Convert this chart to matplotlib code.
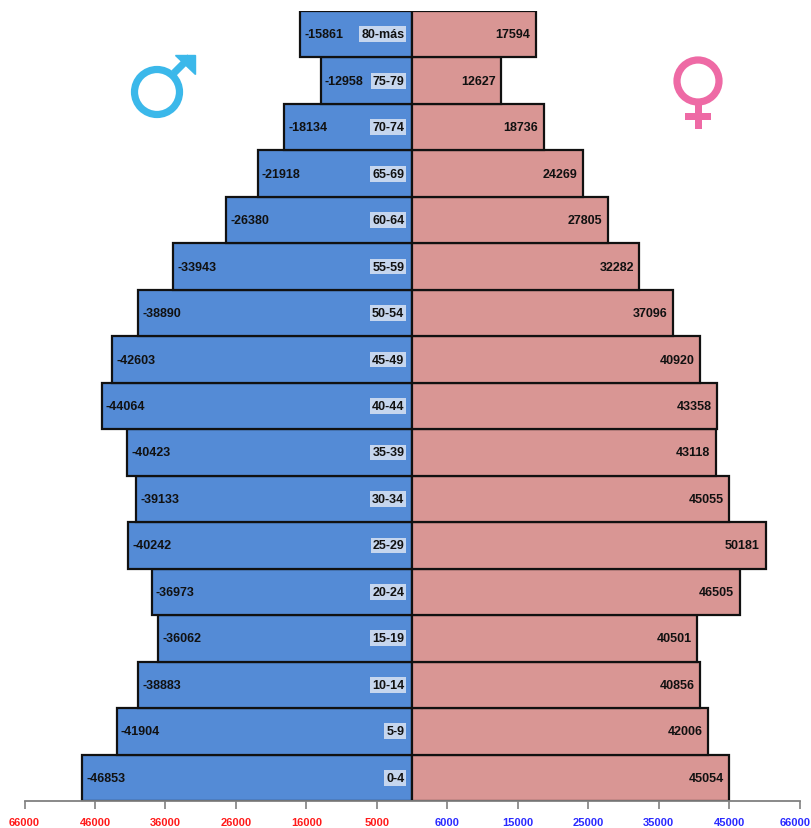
import numpy as np
import matplotlib
matplotlib.use('Agg')
import matplotlib.pyplot as plt
from matplotlib.patches import Circle, Rectangle, Polygon
from matplotlib.transforms import ScaledTranslation

plt.rcParams['font.family'] = ['Liberation Sans Narrow', 'Liberation Sans', 'DejaVu Sans']

# Grupos de edad, de abajo hacia arriba
edades = ['0-4', '5-9', '10-14', '15-19', '20-24', '25-29', '30-34', '35-39', '40-44',
          '45-49', '50-54', '55-59', '60-64', '65-69', '70-74', '75-79', '80-más']
hombres = [-46853, -41904, -38883, -36062, -36973, -40242, -39133, -40423, -44064,
           -42603, -38890, -33943, -26380, -21918, -18134, -12958, -15861]
mujeres = [45054, 42006, 40856, 40501, 46505, 50181, 45055, 43118, 43358,
           40920, 37096, 32282, 27805, 24269, 18736, 12627, 17594]

ticks_izq = [-55000, -45000, -35000, -25000, -15000, -5000]
ticks_der = [5000, 15000, 25000, 35000, 45000, 55000]
etiq_izq = ['66000', '46000', '36000', '26000', '16000', '5000']
etiq_der = ['6000', '15000', '25000', '35000', '45000', '66000']

fig = plt.figure(figsize=(8.11, 8.29), dpi=100)
W, H = 811, 829
ax = fig.add_axes([24.5 / W, 1 - 802 / H, 775 / W, 790 / H])

y = np.arange(len(edades))
ax.barh(y, hombres, height=1, color='#548bd6', edgecolor='#111111', linewidth=1.6, zorder=2)
ax.barh(y, mujeres, height=1, color='#d99694', edgecolor='#111111', linewidth=1.6, zorder=2)

ax.set_xlim(-55000, 55000)
ax.set_ylim(-0.5, len(edades) - 0.5)
for s in ['top', 'left', 'right']:
    ax.spines[s].set_visible(False)
ax.spines['bottom'].set_color('#808080')
ax.spines['bottom'].set_linewidth(1.3)
ax.set_yticks([])

ax.set_xticks(ticks_izq + ticks_der)
ax.set_xticklabels(etiq_izq + etiq_der, fontsize=8, fontweight='bold')
ax.tick_params(axis='x', length=6, width=1.2, color='#808080', pad=5.5)
for i, lab in enumerate(ax.get_xticklabels()):
    lab.set_color('#ff1a1a' if i < len(ticks_izq) else '#2a2aff')
# la ultima etiqueta no cabe entera, se corre un poco a la izquierda
ultima = ax.get_xticklabels()[-1]
ultima.set_transform(ultima.get_transform() + ScaledTranslation(-3 / 72, 0, fig.dpi_scale_trans))

# Etiquetas de valores y de edad
for i in range(len(edades)):
    ax.annotate(str(hombres[i]), (hombres[i], i), xytext=(3, 0), textcoords='offset points',
                ha='left', va='center', fontsize=9, fontweight='bold', color='#111111', zorder=4)
    ax.annotate(str(mujeres[i]), (mujeres[i], i), xytext=(-4, 0), textcoords='offset points',
                ha='right', va='center', fontsize=9, fontweight='bold', color='#111111', zorder=4)
    ax.annotate(edades[i], (0, i), xytext=(-5.5, 0), textcoords='offset points',
                ha='right', va='center', fontsize=9, fontweight='bold', color='#111111', zorder=4,
                bbox=dict(boxstyle='square,pad=0.15', facecolor='#c6d6ee', edgecolor='none'))

# Simbolos de genero, en pixeles de la figura
sim = fig.add_axes([0, 0, 1, 1], facecolor='none')
sim.set_xlim(0, W)
sim.set_ylim(H, 0)
sim.axis('off')

azul = '#3bb8ea'
sim.add_patch(Circle((157, 93), 22.5, facecolor='none', edgecolor=azul, linewidth=5.2))
sim.plot([174, 190], [74, 58], color=azul, linewidth=5.2, solid_capstyle='butt')
sim.add_patch(Polygon([(175, 56), (195, 56), (195, 75)], closed=True, facecolor=azul, edgecolor=azul))

rosa = '#ee6aa5'
sim.add_patch(Circle((698, 82), 21, facecolor='none', edgecolor=rosa, linewidth=5.2))
sim.add_patch(Rectangle((694.5, 104), 7, 26, facecolor=rosa, edgecolor='none'))
sim.add_patch(Rectangle((685, 114), 26, 7, facecolor=rosa, edgecolor='none'))

fig.savefig('out.png', dpi=100)
